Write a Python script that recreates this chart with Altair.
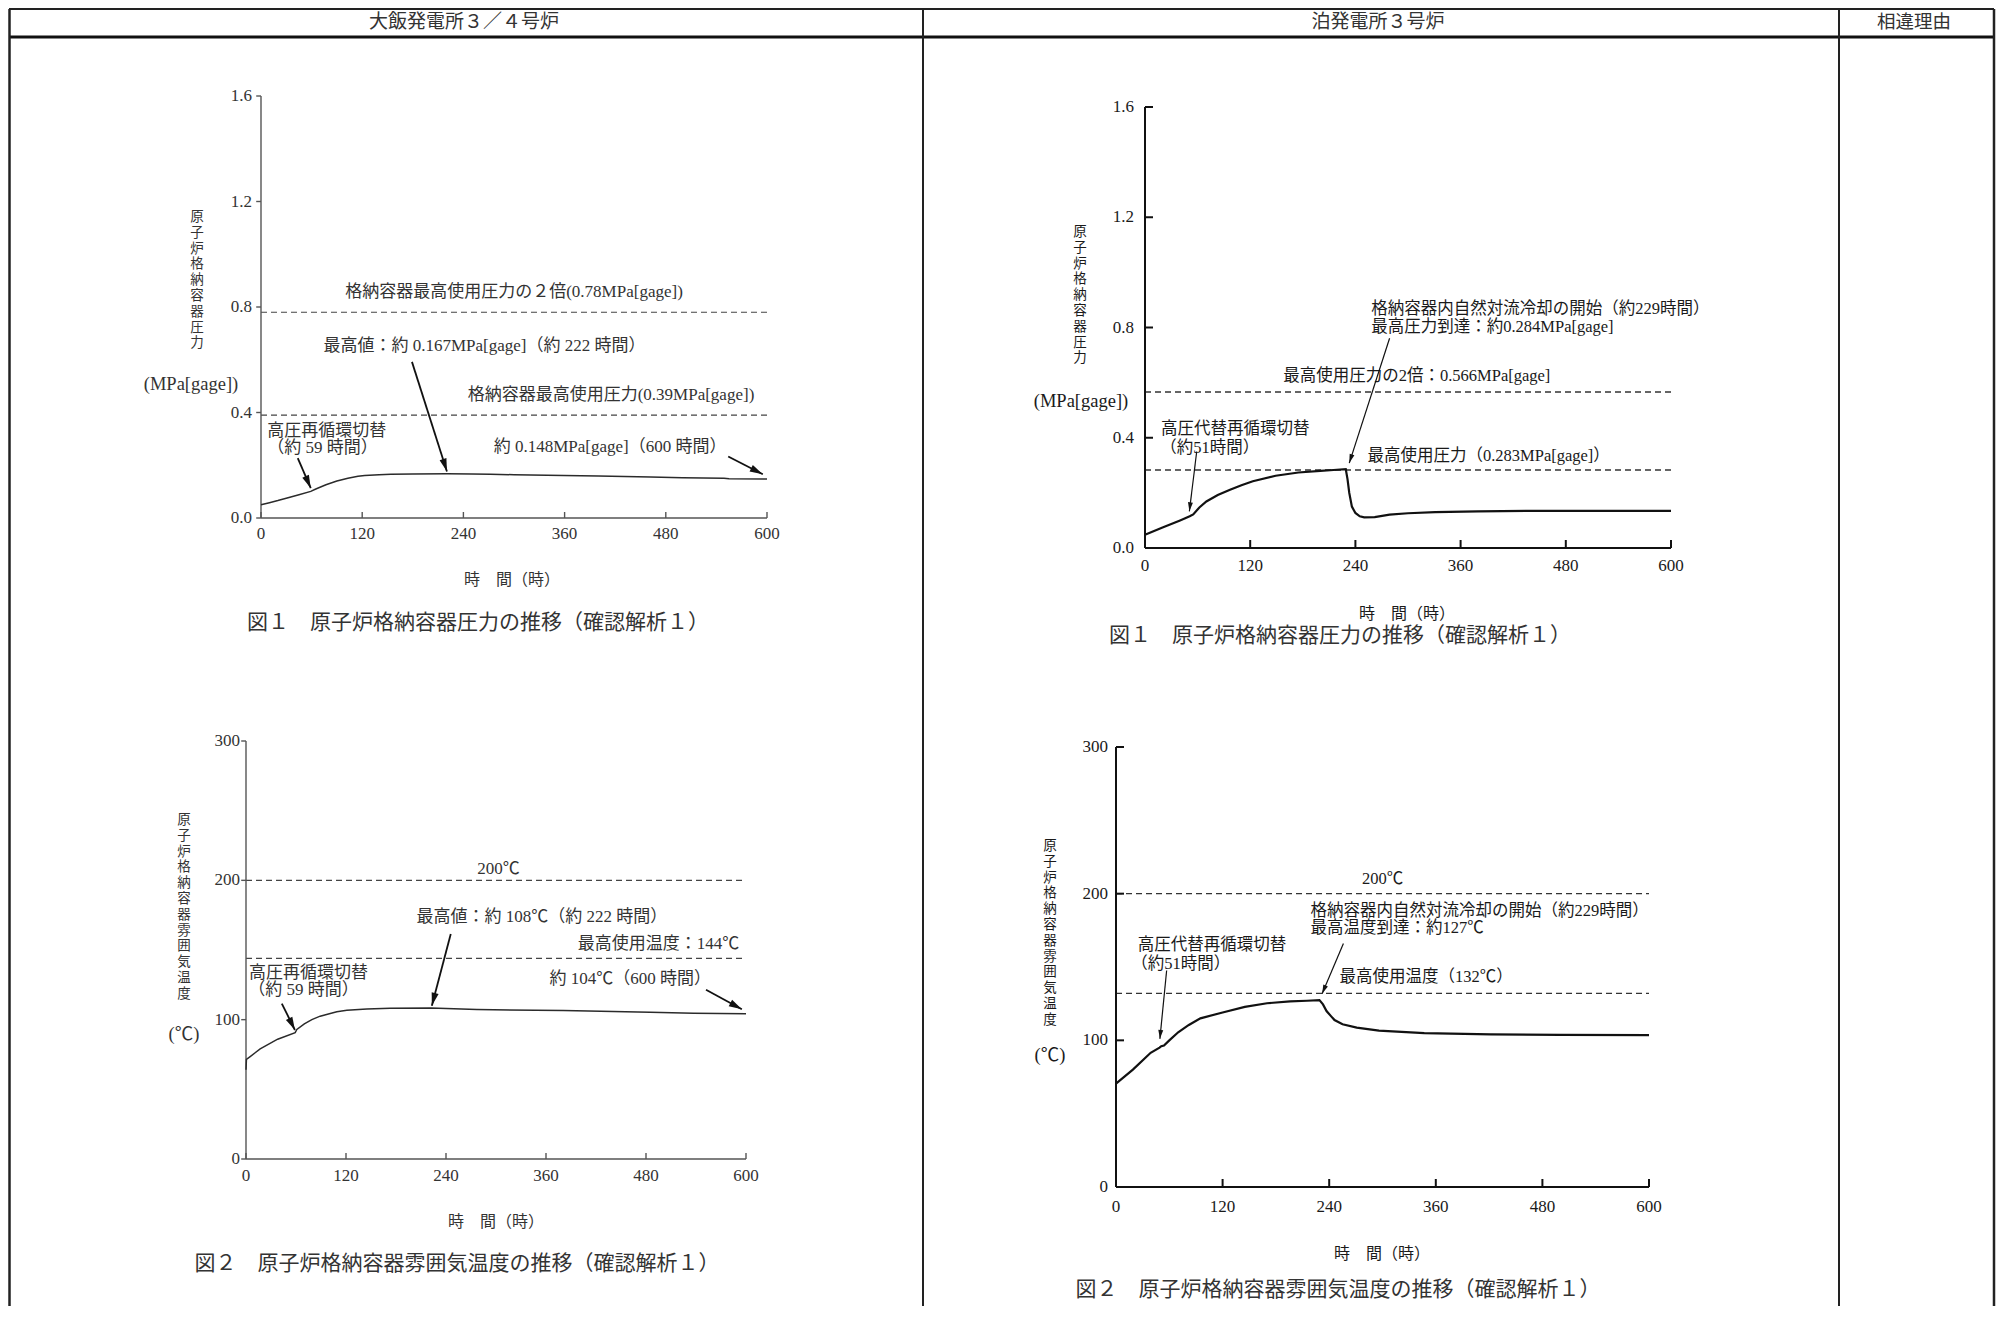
import math
import altair as alt
import pandas as pd

OFF = 8  # page margin of the html page
FONT = "Liberation Serif, Noto Sans CJK JP"

# ---------------- table header ----------------
col_titles = ["大飯発電所３／４号炉", "泊発電所３号炉", "相違理由"]

# ---------------- shared time axis ----------------
x_ticks = [0, 120, 240, 360, 480, 600]
x_labels = ["0", "120", "240", "360", "480", "600"]

# ---------------- Ohi 3/4 : containment pressure ----------------
ohi_p_time = [0, 10, 20, 31, 45, 59, 65, 77, 90, 103, 115, 123, 140, 154, 180, 221, 250, 272, 300, 359, 400, 462, 500, 549, 555, 600]
ohi_p_val = [0.050, 0.058, 0.066, 0.076, 0.088, 0.101, 0.110, 0.126, 0.140, 0.151, 0.158, 0.161, 0.164, 0.166, 0.167, 0.168, 0.167, 0.166, 0.164, 0.161, 0.159, 0.155, 0.153, 0.151, 0.149, 0.148]
ohi_p_limits = [0.78, 0.39]
ohi_p_yticks = [0.0, 0.4, 0.8, 1.2, 1.6]
ohi_p_ylabels = ["0.0", "0.4", "0.8", "1.2", "1.6"]
ohi_p_notes = ["格納容器最高使用圧力の２倍(0.78MPa[gage])", "最高値：約 0.167MPa[gage]（約 222 時間）",
               "格納容器最高使用圧力(0.39MPa[gage])", "高圧再循環切替", "（約 59 時間）",
               "約 0.148MPa[gage]（600 時間）"]
ohi_p_note_t = [300, 265, 415, 78, 73, 414]
ohi_p_note_v = [0.857, 0.651, 0.466, 0.331, 0.265, 0.268]
ohi_p_note_align = ["center", "center", "center", "center", "center", "center"]
ohi_p_arrow_t1 = [179, 43.6, 554]
ohi_p_arrow_v1 = [0.592, 0.227, 0.233]
ohi_p_arrow_t2 = [220.5, 59, 595]
ohi_p_arrow_v2 = [0.176, 0.113, 0.166]

# ---------------- Ohi 3/4 : containment temperature ----------------
ohi_t_time = [0, 0.5, 5, 17, 38, 59, 61, 70, 79, 89, 100, 109, 121, 145, 173, 222, 277, 381, 485, 537, 600]
ohi_t_val = [64, 71.5, 73.5, 79, 86, 90.7, 93, 97, 100, 102.5, 104.3, 105.7, 106.7, 107.6, 108.2, 108.4, 107.3, 106.5, 105.4, 104.6, 104.3]
ohi_t_limits = [200, 144]
ohi_t_yticks = [0, 100, 200, 300]
ohi_t_ylabels = ["0", "100", "200", "300"]
ohi_t_notes = ["200℃", "最高値：約 108℃（約 222 時間）", "最高使用温度：144℃", "高圧再循環切替",
               "（約 59 時間）", "約 104℃（600 時間）"]
ohi_t_note_t = [303, 355, 495, 75, 69, 461]
ohi_t_note_v = [208, 173.6, 154, 133.7, 121.5, 129]
ohi_t_note_align = ["center", "center", "center", "center", "center", "center"]
ohi_t_arrow_t1 = [245.7, 43, 552]
ohi_t_arrow_v1 = [161.5, 111.5, 121.5]
ohi_t_arrow_t2 = [223, 58.7, 595]
ohi_t_arrow_v2 = [110, 92.6, 107.5]

# ---------------- Tomari 3 : containment pressure ----------------
tom_p_time = [0, 20, 40, 51, 55, 62, 70, 83, 97, 110, 123, 149, 175, 200, 215, 229, 231, 233, 236, 240, 245, 250, 262, 279, 300, 331, 380, 450, 520, 600]
tom_p_val = [0.048, 0.074, 0.100, 0.115, 0.122, 0.147, 0.169, 0.192, 0.211, 0.228, 0.242, 0.262, 0.274, 0.280, 0.283, 0.286, 0.25, 0.20, 0.15, 0.127, 0.115, 0.111, 0.112, 0.121, 0.126, 0.130, 0.133, 0.135, 0.135, 0.135]
tom_p_limits = [0.566, 0.283]
tom_p_yticks = [0.0, 0.4, 0.8, 1.2, 1.6]
tom_p_ylabels = ["0.0", "0.4", "0.8", "1.2", "1.6"]
tom_p_notes = ["格納容器内自然対流冷却の開始（約229時間）", "最高圧力到達：約0.284MPa[gage]",
               "最高使用圧力の2倍：0.566MPa[gage]", "高圧代替再循環切替", "（約51時間）",
               "最高使用圧力（0.283MPa[gage]）"]
tom_p_note_t = [258, 258, 310, 103, 74, 392]
tom_p_note_v = [0.866, 0.803, 0.624, 0.431, 0.362, 0.332]
tom_p_note_align = ["left", "left", "center", "center", "center", "center"]
tom_p_arrow_t1 = [279, 59]
tom_p_arrow_v1 = [0.761, 0.350]
tom_p_arrow_t2 = [233, 50.6]
tom_p_arrow_v2 = [0.308, 0.133]

# ---------------- Tomari 3 : containment temperature ----------------
tom_t_time = [0, 19, 39, 49, 51, 54, 60, 70, 82, 95, 120, 145, 170, 196, 215, 229, 233, 237, 242, 246, 255, 271, 296, 347, 422, 500, 600]
tom_t_val = [70.5, 80, 91.5, 95, 96, 96.5, 100, 105.5, 110.5, 115, 119, 122.8, 125.3, 126.6, 127, 127.4, 124.5, 120, 116.5, 113.8, 111, 108.7, 106.6, 104.9, 104, 103.7, 103.6]
tom_t_limits = [200, 132]
tom_t_yticks = [0, 100, 200, 300]
tom_t_ylabels = ["0", "100", "200", "300"]
tom_t_notes = ["200℃", "格納容器内自然対流冷却の開始（約229時間）", "最高温度到達：約127℃",
               "最高使用温度（132℃）", "高圧代替再循環切替", "（約51時間）"]
tom_t_note_t = [300, 219, 219, 349, 108, 73]
tom_t_note_v = [209.7, 188, 176.5, 143, 165, 152]
tom_t_note_align = ["center", "left", "left", "center", "center", "center"]
tom_t_arrow_t1 = [256, 57]
tom_t_arrow_v1 = [166, 147.6]
tom_t_arrow_t2 = [232, 49.4]
tom_t_arrow_v2 = [131.7, 101]

# ---------------- titles ----------------
press_title = "原子炉格納容器圧力"
press_unit = "(MPa[gage])"
temp_title = "原子炉格納容器雰囲気温度"
temp_unit = "(℃)"
time_title = "時　間（時）"
cap_press = "図１　原子炉格納容器圧力の推移（確認解析１）"
cap_temp = "図２　原子炉格納容器雰囲気温度の推移（確認解析１）"

OHI_STYLE = dict(line="#2b2b2b", lw=1.5, axis="#555555", aw=1.4, text="#333333", dash="#444444",
                 dw=1.2, ytick_out=True, head=13, arrow_w=1.8, tick=6, note_size=17)
TOM_STYLE = dict(line="#111111", lw=2.2, axis="#111111", aw=2.0, text="#1a1a1a", dash="#333333",
                 dw=1.3, ytick_out=False, head=9, arrow_w=1.2, tick=8, note_size=16.5)

panels = [
    dict(x0=261, x1=767, yb=518, yt=96, ymax=1.6, time=ohi_p_time, val=ohi_p_val, lim=ohi_p_limits,
         yt_vals=ohi_p_yticks, yt_labs=ohi_p_ylabels, notes=ohi_p_notes, nt=ohi_p_note_t, nv=ohi_p_note_v,
         na=ohi_p_note_align, a1t=ohi_p_arrow_t1, a1v=ohi_p_arrow_v1, a2t=ohi_p_arrow_t2, a2v=ohi_p_arrow_v2,
         style=OHI_STYLE, ylab_gap=9, xlab_dy=16, title=press_title, title_xy=(197, 210), unit=press_unit,
         unit_xy=(191, 384), xt_xy=(512, 580), cap=cap_press, cap_xy=(478, 623)),
    dict(x0=1145, x1=1671, yb=548, yt=107, ymax=1.6, time=tom_p_time, val=tom_p_val, lim=tom_p_limits,
         yt_vals=tom_p_yticks, yt_labs=tom_p_ylabels, notes=tom_p_notes, nt=tom_p_note_t, nv=tom_p_note_v,
         na=tom_p_note_align, a1t=tom_p_arrow_t1, a1v=tom_p_arrow_v1, a2t=tom_p_arrow_t2, a2v=tom_p_arrow_v2,
         style=TOM_STYLE, ylab_gap=11, xlab_dy=18, title=press_title, title_xy=(1080, 225), unit=press_unit,
         unit_xy=(1081, 401), xt_xy=(1407, 614), cap=cap_press, cap_xy=(1340, 636)),
    dict(x0=246, x1=746, yb=1159, yt=741, ymax=300, time=ohi_t_time, val=ohi_t_val, lim=ohi_t_limits,
         yt_vals=ohi_t_yticks, yt_labs=ohi_t_ylabels, notes=ohi_t_notes, nt=ohi_t_note_t, nv=ohi_t_note_v,
         na=ohi_t_note_align, a1t=ohi_t_arrow_t1, a1v=ohi_t_arrow_v1, a2t=ohi_t_arrow_t2, a2v=ohi_t_arrow_v2,
         style=OHI_STYLE, ylab_gap=6, xlab_dy=17, title=temp_title, title_xy=(184, 813), unit=temp_unit,
         unit_xy=(184, 1034), xt_xy=(496, 1222), cap=cap_temp, cap_xy=(457, 1264)),
    dict(x0=1116, x1=1649, yb=1187, yt=747, ymax=300, time=tom_t_time, val=tom_t_val, lim=tom_t_limits,
         yt_vals=tom_t_yticks, yt_labs=tom_t_ylabels, notes=tom_t_notes, nt=tom_t_note_t, nv=tom_t_note_v,
         na=tom_t_note_align, a1t=tom_t_arrow_t1, a1v=tom_t_arrow_v1, a2t=tom_t_arrow_t2, a2v=tom_t_arrow_v2,
         style=TOM_STYLE, ylab_gap=8, xlab_dy=20, title=temp_title, title_xy=(1050, 839), unit=temp_unit,
         unit_xy=(1050, 1055), xt_xy=(1382, 1254), cap=cap_temp, cap_xy=(1338, 1290)),
]

HEAD_PATH = "M0,0L-0.55,2L0.55,2Z"
ONE = pd.DataFrame({"k": [0]})


def px_text(txt, x, y, size, color, align="center", baseline="middle", line_height=None):
    kw = dict(text=txt, font=FONT, fontSize=size, color=color, align=align, baseline=baseline)
    if line_height is not None:
        kw.update(lineBreak="\n", lineHeight=line_height)
    return alt.Chart(ONE).mark_text(**kw).encode(x=alt.value(x - OFF), y=alt.value(y - OFF))


def panel_layers(p):
    st = p["style"]
    xs = alt.Scale(domain=[0, 600], range=[p["x0"] - OFF, p["x1"] - OFF], nice=False, zero=False)
    ys = alt.Scale(domain=[0, p["ymax"]], range=[p["yb"] - OFF, p["yt"] - OFF], nice=False, zero=False)

    def X(f):
        return alt.X(f"{f}:Q", scale=xs, axis=None)

    def Y(f):
        return alt.Y(f"{f}:Q", scale=ys, axis=None)

    def pxx(t):
        return p["x0"] + t / 600 * (p["x1"] - p["x0"])

    def pxy(v):
        return p["yb"] - v / p["ymax"] * (p["yb"] - p["yt"])

    out = []
    # dashed limit lines
    lim = pd.DataFrame({"a": [0] * len(p["lim"]), "b": [600] * len(p["lim"]), "v": p["lim"]})
    out.append(alt.Chart(lim).mark_rule(color=st["dash"], strokeWidth=st["dw"], strokeDash=[6, 4])
               .encode(x=X("a"), x2=alt.X2("b"), y=Y("v")))
    # axis lines
    ax = pd.DataFrame({"a": [0, 0], "b": [600, 0], "v": [0, 0], "w": [0, p["ymax"]]})
    out.append(alt.Chart(ax).mark_rule(color=st["axis"], strokeWidth=st["aw"])
               .encode(x=X("a"), x2=alt.X2("b"), y=Y("v"), y2=alt.Y2("w")))
    # x ticks (inward)
    tl_y = st["tick"] * p["ymax"] / (p["yb"] - p["yt"])
    xt = pd.DataFrame({"t": x_ticks, "v0": [0] * len(x_ticks), "v1": [tl_y] * len(x_ticks)})
    out.append(alt.Chart(xt).mark_rule(color=st["axis"], strokeWidth=st["aw"])
               .encode(x=X("t"), y=Y("v0"), y2=alt.Y2("v1")))
    # y ticks
    tl_x = st["tick"] * 600 / (p["x1"] - p["x0"])
    ya, yb_ = (-tl_x * 0.8, 0) if st["ytick_out"] else (0, tl_x)
    ytk = pd.DataFrame({"a": [ya] * len(p["yt_vals"]), "b": [yb_] * len(p["yt_vals"]), "v": p["yt_vals"]})
    out.append(alt.Chart(ytk).mark_rule(color=st["axis"], strokeWidth=st["aw"])
               .encode(x=X("a"), x2=alt.X2("b"), y=Y("v")))
    # tick labels
    xl = pd.DataFrame({"t": x_ticks, "v": [0] * len(x_ticks), "lab": x_labels})
    out.append(alt.Chart(xl).mark_text(font=FONT, fontSize=17, color=st["text"], baseline="middle",
                                       dy=p["xlab_dy"]).encode(x=X("t"), y=Y("v"), text="lab:N"))
    yl = pd.DataFrame({"t": [0] * len(p["yt_vals"]), "v": p["yt_vals"], "lab": p["yt_labs"]})
    out.append(alt.Chart(yl).mark_text(font=FONT, fontSize=17, color=st["text"], align="right",
                                       baseline="middle", dx=-p["ylab_gap"])
               .encode(x=X("t"), y=Y("v"), text="lab:N"))
    # curve
    cv = pd.DataFrame({"t": p["time"], "v": p["val"]})
    out.append(alt.Chart(cv).mark_line(color=st["line"], strokeWidth=st["lw"])
               .encode(x=X("t"), y=Y("v")))
    # annotations
    notes = pd.DataFrame({"t": p["nt"], "v": p["nv"], "lab": p["notes"], "al": p["na"]})
    for al in ["center", "left"]:
        sub = notes[notes["al"] == al]
        if len(sub):
            out.append(alt.Chart(sub).mark_text(font=FONT, fontSize=st["note_size"], color=st["text"],
                                                align=al, baseline="middle")
                       .encode(x=X("t"), y=Y("v"), text="lab:N"))
    # arrows
    ar = pd.DataFrame({"t": p["a1t"], "v": p["a1v"], "t2": p["a2t"], "v2": p["a2v"]})
    out.append(alt.Chart(ar).mark_rule(color="#111111", strokeWidth=st["arrow_w"])
               .encode(x=X("t"), y=Y("v"), x2=alt.X2("t2"), y2=alt.Y2("v2")))
    angs = []
    for t1, v1, t2, v2 in zip(p["a1t"], p["a1v"], p["a2t"], p["a2v"]):
        dx = pxx(t2) - pxx(t1)
        dy = pxy(v2) - pxy(v1)
        angs.append(math.degrees(math.atan2(dx, -dy)) % 360)
    hd = pd.DataFrame({"t": p["a2t"], "v": p["a2v"], "ang": angs})
    out.append(alt.Chart(hd).mark_point(shape=HEAD_PATH, filled=True, size=st["head"] ** 2,
                                        color="#111111", opacity=1, strokeWidth=0)
               .encode(x=X("t"), y=Y("v"), angle=alt.Angle("ang:Q", scale=None)))
    # titles
    out.append(px_text("\n".join(p["title"]), p["title_xy"][0], p["title_xy"][1], 13.5, st["text"],
                       baseline="top", line_height=15.8))
    out.append(px_text(p["unit"], p["unit_xy"][0], p["unit_xy"][1], 18.5, st["text"]))
    out.append(px_text(time_title, p["xt_xy"][0], p["xt_xy"][1], 16, st["text"]))
    out.append(px_text(p["cap"], p["cap_xy"][0], p["cap_xy"][1], 21, "#333333"))
    return out


# ---------------- table frame ----------------
def vline(x, y1, y2, w, color="#222222"):
    return alt.Chart(ONE).mark_rule(color=color, strokeWidth=w).encode(
        x=alt.value(x - OFF), x2=alt.value(x - OFF), y=alt.value(y1 - OFF), y2=alt.value(y2 - OFF))


def hline(y, x1, x2, w, color="#222222"):
    return alt.Chart(ONE).mark_rule(color=color, strokeWidth=w).encode(
        x=alt.value(x1 - OFF), x2=alt.value(x2 - OFF), y=alt.value(y - OFF), y2=alt.value(y - OFF))


BOTTOM = 1306
layers = [
    hline(9, 9, 1994, 2),
    hline(37, 9, 1994, 3.2, "#111111"),
    vline(9.5, 9, BOTTOM, 2.5),
    vline(923, 9, BOTTOM, 2),
    vline(1839, 9, BOTTOM, 2),
    vline(1994, 9, BOTTOM, 2.5),
    px_text(col_titles[0], 464, 22, 19, "#333333"),
    px_text(col_titles[1], 1378, 22, 19, "#333333"),
    px_text(col_titles[2], 1914, 22, 18.5, "#333333"),
]
for p in panels:
    layers.extend(panel_layers(p))

chart = (
    alt.layer(*layers)
    .resolve_scale(x="independent", y="independent")
    .properties(width=1988, height=1298, padding=0, background="white",
                autosize=alt.AutoSizeParams(type="none"))
    .configure_view(stroke=None)
)

chart.save("out.html", embed_options={"renderer": "svg", "actions": False})
